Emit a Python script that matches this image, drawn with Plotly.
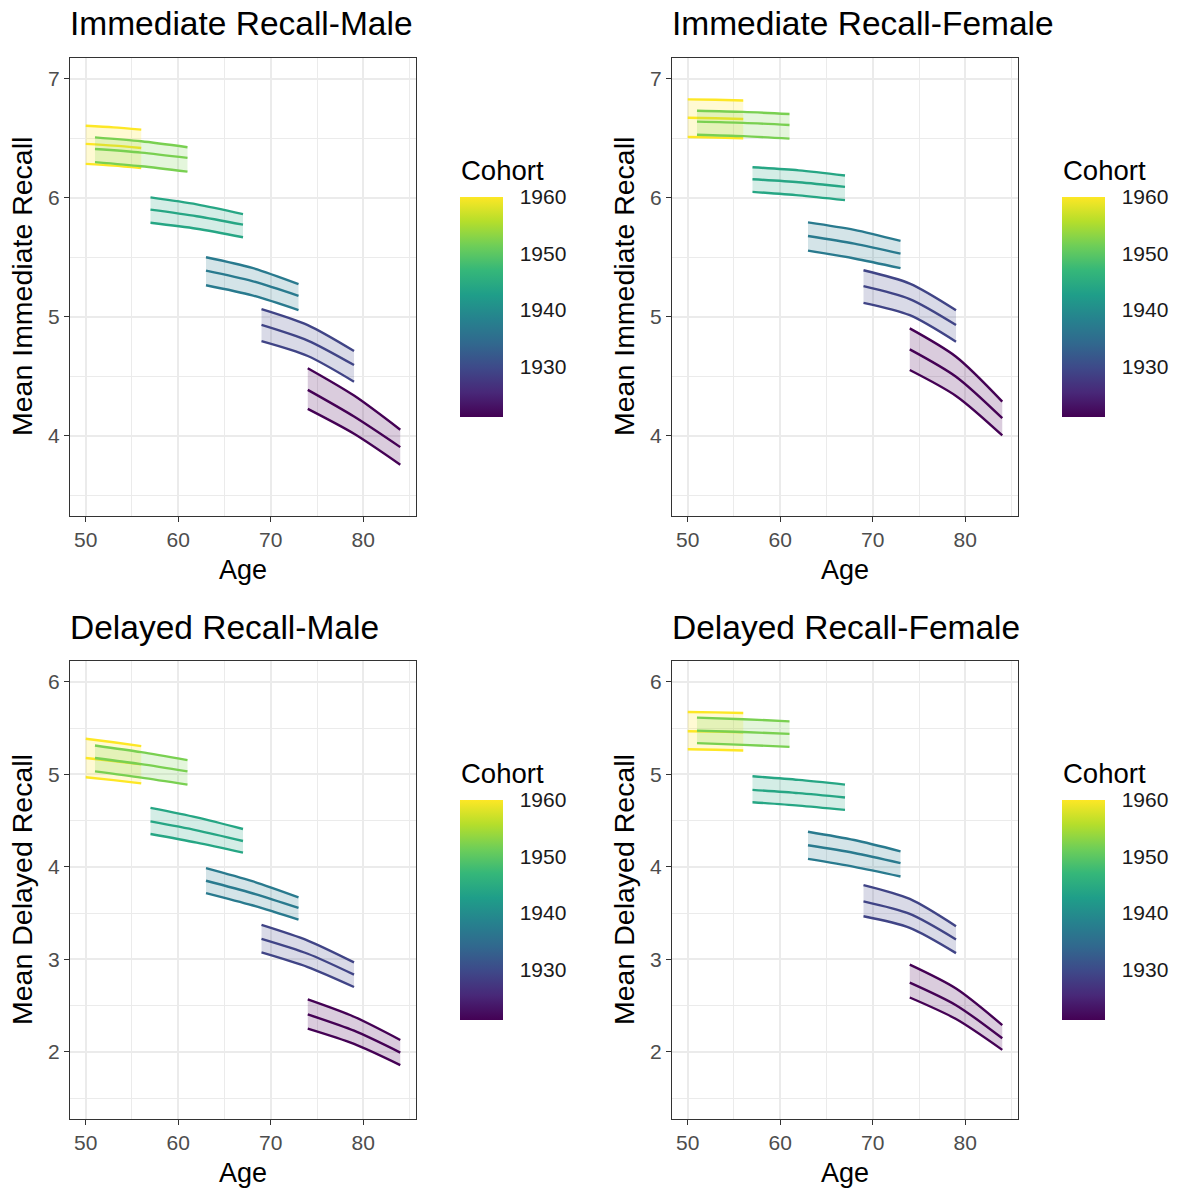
import plotly.graph_objects as go
from plotly.colors import sample_colorscale

# ---------------- data ----------------
cohorts = [1960, 1952, 1944, 1937, 1929, 1921]
cohort_ages = [[50, 53, 56], [51, 56, 61], [57, 62, 67],
               [63, 68, 73], [69, 74, 79], [74, 79, 84]]

imm_male_upper = [[6.606, 6.592, 6.573], [6.508, 6.475, 6.425], [6.003, 5.945, 5.863],
                  [5.50, 5.41, 5.274], [5.064, 4.93, 4.712], [4.567, 4.337, 4.05]]
imm_male_mean = [[6.453, 6.438, 6.419], [6.41, 6.38, 6.335], [5.90, 5.845, 5.774],
                 [5.388, 5.30, 5.176], [4.932, 4.80, 4.594], [4.385, 4.161, 3.904]]
imm_male_lower = [[6.285, 6.27, 6.249], [6.30, 6.265, 6.22], [5.79, 5.74, 5.668],
                  [5.265, 5.18, 5.056], [4.795, 4.67, 4.454], [4.225, 4.016, 3.756]]

imm_female_upper = [[6.827, 6.824, 6.818], [6.732, 6.722, 6.704], [6.257, 6.23, 6.187],
                    [5.793, 5.73, 5.637], [5.391, 5.279, 5.055], [4.902, 4.664, 4.287]]
imm_female_mean = [[6.673, 6.669, 6.662], [6.64, 6.63, 6.612], [6.156, 6.13, 6.092],
                   [5.679, 5.615, 5.531], [5.257, 5.148, 4.93], [4.726, 4.496, 4.147]]
imm_female_lower = [[6.511, 6.507, 6.50], [6.53, 6.518, 6.497], [6.05, 6.02, 5.98],
                    [5.556, 5.49, 5.408], [5.117, 5.013, 4.79], [4.552, 4.334, 4.002]]

del_male_upper = [[5.384, 5.347, 5.305], [5.312, 5.24, 5.154], [4.638, 4.535, 4.409],
                  [3.986, 3.845, 3.67], [3.373, 3.204, 2.968], [2.567, 2.38, 2.129]]
del_male_mean = [[5.176, 5.144, 5.108], [5.176, 5.11, 5.032], [4.491, 4.395, 4.28],
                 [3.85, 3.715, 3.556], [3.222, 3.061, 2.835], [2.405, 2.229, 1.993]]
del_male_lower = [[4.968, 4.937, 4.903], [5.032, 4.965, 4.889], [4.355, 4.262, 4.154],
                  [3.717, 3.585, 3.43], [3.075, 2.917, 2.702], [2.251, 2.086, 1.857]]

del_female_upper = [[5.674, 5.67, 5.663], [5.613, 5.596, 5.573], [4.979, 4.94, 4.889],
                    [4.38, 4.29, 4.168], [3.803, 3.653, 3.358], [2.943, 2.685, 2.29]]
del_female_mean = [[5.466, 5.462, 5.455], [5.473, 5.457, 5.437], [4.832, 4.797, 4.75],
                   [4.233, 4.15, 4.04], [3.627, 3.491, 3.215], [2.749, 2.505, 2.147]]
del_female_lower = [[5.272, 5.266, 5.258], [5.337, 5.319, 5.297], [4.699, 4.662, 4.616],
                    [4.086, 4.0, 3.896], [3.466, 3.341, 3.068], [2.588, 2.355, 2.022]]

panel_titles = ["Immediate Recall-Male", "Immediate Recall-Female",
                "Delayed Recall-Male", "Delayed Recall-Female"]
y_titles = ["Mean Immediate Recall", "Mean Immediate Recall",
            "Mean Delayed Recall", "Mean Delayed Recall"]
x_ticks = [50, 60, 70, 80]
x_minor = [55, 65, 75, 85]
y_ticks_imm = [4, 5, 6, 7]
y_minor_imm = [3.5, 4.5, 5.5, 6.5]
y_ticks_del = [2, 3, 4, 5, 6]
y_minor_del = [1.5, 2.5, 3.5, 4.5, 5.5]
cbar_ticks = [1930, 1940, 1950, 1960]
cohort_min, cohort_max = 1921, 1960

# ---------------- layout geometry ----------------
W, H = 1181, 1191
FONT = "Liberation Sans, Arial, Helvetica, sans-serif"

def px_x(p):
    return p / W

def px_y(p):
    return 1 - p / H

panels = [
    dict(data=(imm_male_upper, imm_male_mean, imm_male_lower), x0=70, y0=58, ytk=y_ticks_imm, ymn=y_minor_imm, yr=[3.325, 7.175]),
    dict(data=(imm_female_upper, imm_female_mean, imm_female_lower), x0=672, y0=58, ytk=y_ticks_imm, ymn=y_minor_imm, yr=[3.325, 7.175]),
    dict(data=(del_male_upper, del_male_mean, del_male_lower), x0=70, y0=661, ytk=y_ticks_del, ymn=y_minor_del, yr=[1.275, 6.225]),
    dict(data=(del_female_upper, del_female_mean, del_female_lower), x0=672, y0=661, ytk=y_ticks_del, ymn=y_minor_del, yr=[1.275, 6.225]),
]
PW, PH = 346, 458

def rgba(c, a):
    c = c.strip()
    if c.startswith("rgb"):
        vals = c[c.index("(") + 1:c.index(")")].split(",")
        r, g, b = [float(v) for v in vals[:3]]
    else:
        c = c.lstrip("#")
        r, g, b = int(c[0:2], 16), int(c[2:4], 16), int(c[4:6], 16)
    return f"rgba({r:.0f},{g:.0f},{b:.0f},{a})"

norm = [(c - cohort_min) / (cohort_max - cohort_min) for c in cohorts]
colors = sample_colorscale("Viridis", norm)

fig = go.Figure()
annotations = []
LW = 2.4

for i, p in enumerate(panels):
    xa = "x" if i == 0 else f"x{i+1}"
    ya = "y" if i == 0 else f"y{i+1}"
    ca = "coloraxis" if i == 0 else f"coloraxis{i+1}"
    upper, mean, lower = p["data"]
    for k in range(len(cohorts)):
        col = colors[k]
        ages = cohort_ages[k]
        fig.add_trace(go.Scatter(x=ages, y=upper[k], mode="lines", xaxis=xa, yaxis=ya,
                                 line=dict(color=col, width=LW, shape="spline", smoothing=0.8),
                                 showlegend=False, hoverinfo="skip"))
        fig.add_trace(go.Scatter(x=ages, y=lower[k], mode="lines", xaxis=xa, yaxis=ya,
                                 line=dict(color=col, width=LW, shape="spline", smoothing=0.8),
                                 fill="tonexty", fillcolor=rgba(col, 0.2),
                                 showlegend=False, hoverinfo="skip"))
        fig.add_trace(go.Scatter(x=ages, y=mean[k], mode="lines", xaxis=xa, yaxis=ya,
                                 line=dict(color=col, width=LW, shape="spline", smoothing=0.8),
                                 showlegend=False, hoverinfo="skip"))
    # invisible marker trace carrying the colour scale
    allx, ally, allc = [], [], []
    for k in range(len(cohorts)):
        allx += cohort_ages[k]
        ally += mean[k]
        allc += [cohorts[k]] * len(cohort_ages[k])
    fig.add_trace(go.Scatter(x=allx, y=ally, mode="markers", xaxis=xa, yaxis=ya,
                             marker=dict(color=allc, coloraxis=ca, size=1, opacity=0),
                             showlegend=False, hoverinfo="skip"))

    x0, y0 = p["x0"], p["y0"]
    axis_common = dict(showline=True, mirror=True, linecolor="#333333", linewidth=1,
                       ticks="outside", ticklen=5, tickwidth=1.2, tickcolor="#333333",
                       showgrid=True, gridcolor="#EBEBEB", gridwidth=1.8, zeroline=False,
                       tickfont=dict(family=FONT, size=21, color="#4D4D4D"))
    fig.layout[("xaxis" if i == 0 else f"xaxis{i+1}")] = dict(
        axis_common, domain=[px_x(x0), px_x(x0 + PW)], anchor=ya, range=[48.3, 85.7],
        tickmode="array", tickvals=x_ticks,
        minor=dict(tickmode="array", tickvals=x_minor, showgrid=True, gridcolor="#EBEBEB", gridwidth=0.9, ticks=""))
    fig.layout[("yaxis" if i == 0 else f"yaxis{i+1}")] = dict(
        axis_common, domain=[px_y(y0 + PH), px_y(y0)], anchor=xa, range=p["yr"],
        tickmode="array", tickvals=p["ytk"],
        minor=dict(tickmode="array", tickvals=p["ymn"], showgrid=True, gridcolor="#EBEBEB", gridwidth=0.9, ticks=""))

    cb_x = x0 + 390
    cb_bottom = y0 + 359
    fig.layout[ca] = dict(
        colorscale="Viridis", cmin=cohort_min, cmax=cohort_max,
        colorbar=dict(x=px_x(cb_x), xanchor="left", y=px_y(cb_bottom), yanchor="bottom",
                      len=220, lenmode="pixels", thickness=43, thicknessmode="pixels",
                      xpad=0, ypad=0, outlinewidth=0,
                      tickmode="array", tickvals=cbar_ticks,
                      ticks="outside", ticklen=13, tickcolor="rgba(0,0,0,0)",
                      tickfont=dict(family=FONT, size=21, color="#1A1A1A")))

    # texts
    annotations.append(dict(text=panel_titles[i], x=px_x(x0 - 2), y=px_y(y0 - 34), xref="paper", yref="paper",
                            xanchor="left", yanchor="middle", showarrow=False,
                            font=dict(family=FONT, size=33.5, color="black")))
    annotations.append(dict(text="Age", x=px_x(x0 + PW / 2), y=px_y(y0 + PH + 54), xref="paper", yref="paper",
                            xanchor="center", yanchor="middle", showarrow=False,
                            font=dict(family=FONT, size=27, color="black")))
    annotations.append(dict(text=y_titles[i], x=px_x(x0 - 48), y=px_y(y0 + PH / 2), xref="paper", yref="paper",
                            xanchor="center", yanchor="middle", showarrow=False, textangle=-90,
                            font=dict(family=FONT, size=28.5, color="black")))
    annotations.append(dict(text="Cohort", x=px_x(cb_x - 1), y=px_y(y0 + 112), xref="paper", yref="paper",
                            xanchor="left", yanchor="middle", showarrow=False,
                            font=dict(family=FONT, size=27.5, color="black")))

fig.update_layout(width=W, height=H, margin=dict(l=0, r=0, t=0, b=0),
                  paper_bgcolor="white", plot_bgcolor="white",
                  font=dict(family=FONT), annotations=annotations, showlegend=False)

fig.write_html("out.html")
